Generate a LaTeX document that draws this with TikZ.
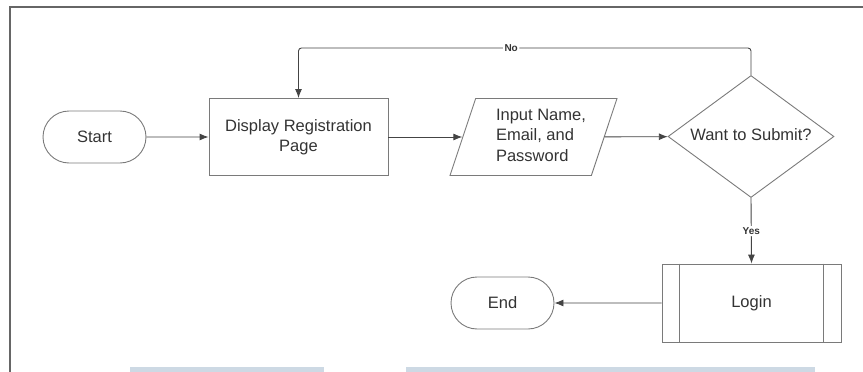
\documentclass[tikz,border=0pt]{standalone}
\usepackage{fontspec}
\setmainfont{Liberation Sans}
\usetikzlibrary{shapes.geometric,shapes.misc,arrows.meta}

\definecolor{ink}{HTML}{333333}
\definecolor{edge}{HTML}{7A7A7A}
\definecolor{wire}{HTML}{444444}
\definecolor{frame}{HTML}{666666}
\definecolor{barblue}{HTML}{CDD9E4}

\tikzset{
  txt/.style={text=ink, font=\fontsize{16.5}{20.5}\selectfont},
  box/.style={txt, draw=edge, line width=0.9pt, align=center},
  terminal/.style={box, rounded rectangle, minimum width=103pt, minimum height=52pt, inner sep=0pt},
  procbox/.style={box, rectangle, minimum width=179pt, minimum height=77pt, inner sep=0pt},
  iobox/.style={box, trapezium, trapezium left angle=77.5, trapezium right angle=102.5,
    trapezium stretches=true, minimum width=167pt, minimum height=77pt, inner sep=1pt},
  decision/.style={box, diamond, minimum width=166pt, minimum height=122pt, inner sep=1pt},
  subproc/.style={procbox, minimum width=179pt, minimum height=78pt},
  arrow/.style={draw=wire, line width=0.9pt, -{Latex[length=9pt,width=7pt]}},
  tag/.style={fill=white, text=ink, inner sep=1.5pt, font=\fontsize{10}{12}\selectfont\bfseries}
}

\begin{document}
\begin{tikzpicture}[x=1pt,y=-1pt]
\useasboundingbox (0,0) rectangle (863,372);

% outer frame (open on the right and at the bottom)
\draw[frame, line width=2pt] (10,372) -- (10,7) -- (863,7);

% light bars along the lower edge
\fill[barblue] (130,367) rectangle (324,372);
\fill[barblue] (406,367) rectangle (815,372);

% flowchart nodes
\node[terminal] (start) at (94.5,137) {Start};
\node[procbox] (disp) at (298.5,137) {Display Registration\\Page};
\node[iobox] (inp) at (533.5,137) {};
\node[txt, align=left] (inptext) at (541,135) {Input Name,\\Email, and\\Password};
\node[decision] (sub) at (751,136.5) {};
\node[txt] (subtext) at (751,135) {Want to Submit?};
\node[subproc] (login) at (751.5,303) {Login};
\node[terminal] (end) at (502.5,303) {End};

% inner bars of the predefined-process box
\draw[edge, line width=0.9pt] ([xshift=18pt]login.north west) -- ([xshift=18pt]login.south west);
\draw[edge, line width=0.9pt] ([xshift=-18pt]login.north east) -- ([xshift=-18pt]login.south east);

% connectors
\coordinate (loop) at (751,48);
\draw[arrow] (start) -- (disp);
\draw[arrow] (disp) -- (inp);
\draw[arrow] (inp) -- (sub);
\draw[arrow, rounded corners=3pt] (sub.north) -- (loop) -| node[tag, pos=0.265] {No} (disp.north);
\draw[arrow] (sub.south) -- node[tag] {Yes} (login.north);
\draw[arrow] (login) -- (end);
\end{tikzpicture}
\end{document}
